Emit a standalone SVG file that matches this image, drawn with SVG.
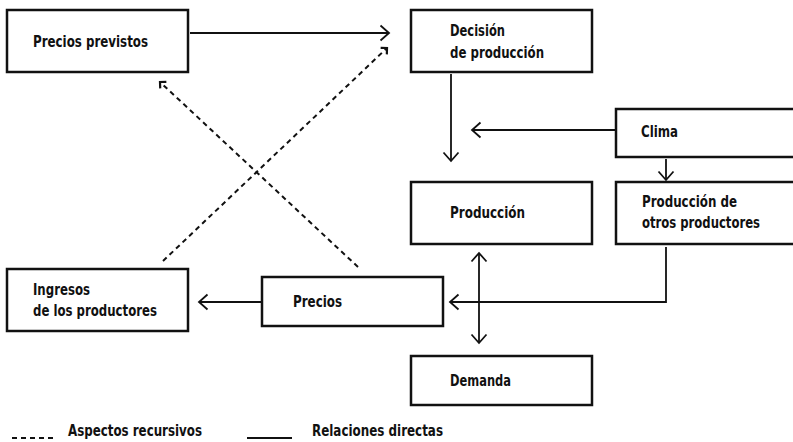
<svg xmlns="http://www.w3.org/2000/svg" width="793" height="442" viewBox="0 0 793 442">
  <style>
    .box { fill: #fff; stroke: #111; stroke-width: 2.5; }
    .lbl { font-family: "Liberation Sans Narrow", "DejaVu Sans Condensed", "Liberation Sans", sans-serif; font-weight: bold; font-size: 16px; fill: #111; }
    .link { fill: none; stroke: #111; stroke-width: 1.8; }
    .dash { fill: none; stroke: #111; stroke-width: 2; stroke-dasharray: 5 4; }
  </style>
  <defs>
    <marker id="arr" markerUnits="userSpaceOnUse" viewBox="0 0 12 18" markerWidth="12" markerHeight="18" refX="10" refY="9" orient="auto-start-reverse">
      <path d="M1.5,1.5 L10,9 L1.5,16.5" fill="none" stroke="#111" stroke-width="1.8"/>
    </marker>
    <marker id="arrDash" markerUnits="userSpaceOnUse" viewBox="0 0 10 14" markerWidth="10" markerHeight="14" refX="7" refY="7" orient="auto">
      <path d="M2.5,2.5 L7,7 L2.5,11.5" fill="none" stroke="#111" stroke-width="2.2"/>
    </marker>
  </defs>

  <!-- connectors -->
  <g id="connectors">
    <line class="link" x1="190" y1="33" x2="389" y2="33" marker-end="url(#arr)"/>
    <line class="link" x1="451" y1="74" x2="451" y2="161" marker-end="url(#arr)"/>
    <line class="link" x1="615" y1="130" x2="472" y2="130" marker-end="url(#arr)"/>
    <line class="link" x1="666" y1="159" x2="666" y2="180" marker-end="url(#arr)"/>
    <polyline class="link" points="666,247 666,302 450,302" marker-end="url(#arr)"/>
    <line class="link" x1="479" y1="253" x2="479" y2="343" marker-start="url(#arr)" marker-end="url(#arr)"/>
    <line class="link" x1="261" y1="302" x2="199" y2="302" marker-end="url(#arr)"/>
    <line class="dash" x1="163" y1="261" x2="387" y2="48" marker-end="url(#arrDash)"/>
    <line class="dash" x1="358" y1="267" x2="160" y2="82" marker-end="url(#arrDash)"/>
  </g>

  <!-- nodes -->
  <g id="precios-previstos">
    <rect class="box" x="7" y="10" width="181" height="62"/>
    <text class="lbl" x="33" y="47" textLength="115" lengthAdjust="spacingAndGlyphs">Precios previstos</text>
  </g>
  <g id="decision">
    <rect class="box" x="411" y="10" width="181" height="62"/>
    <text class="lbl" x="450" y="36" textLength="55" lengthAdjust="spacingAndGlyphs">Decisión</text>
    <text class="lbl" x="450" y="58" textLength="94" lengthAdjust="spacingAndGlyphs">de producción</text>
  </g>
  <g id="clima">
    <rect class="box" x="616" y="109" width="190" height="48"/>
    <text class="lbl" x="641" y="137" textLength="37" lengthAdjust="spacingAndGlyphs">Clima</text>
  </g>
  <g id="produccion">
    <rect class="box" x="411" y="182" width="181" height="62"/>
    <text class="lbl" x="450" y="218" textLength="75" lengthAdjust="spacingAndGlyphs">Producción</text>
  </g>
  <g id="otros-productores">
    <rect class="box" x="616" y="182" width="190" height="62"/>
    <text class="lbl" x="642" y="207" textLength="95" lengthAdjust="spacingAndGlyphs">Producción de</text>
    <text class="lbl" x="642" y="228" textLength="118" lengthAdjust="spacingAndGlyphs">otros productores</text>
  </g>
  <g id="ingresos">
    <rect class="box" x="7" y="269" width="181" height="62"/>
    <text class="lbl" x="33" y="295" textLength="57" lengthAdjust="spacingAndGlyphs">Ingresos</text>
    <text class="lbl" x="33" y="316" textLength="124" lengthAdjust="spacingAndGlyphs">de los productores</text>
  </g>
  <g id="precios">
    <rect class="box" x="262" y="277" width="181" height="49"/>
    <text class="lbl" x="293" y="307" textLength="49" lengthAdjust="spacingAndGlyphs">Precios</text>
  </g>
  <g id="demanda">
    <rect class="box" x="411" y="356" width="181" height="49"/>
    <text class="lbl" x="450" y="386" textLength="61" lengthAdjust="spacingAndGlyphs">Demanda</text>
  </g>

  <!-- legend -->
  <g id="legend">
    <line class="dash" x1="12" y1="438" x2="54" y2="438"/>
    <text class="lbl" x="68" y="436" textLength="134" lengthAdjust="spacingAndGlyphs">Aspectos recursivos</text>
    <line class="link" x1="247" y1="438" x2="292" y2="438"/>
    <text class="lbl" x="312" y="436" textLength="131" lengthAdjust="spacingAndGlyphs">Relaciones directas</text>
  </g>
</svg>
